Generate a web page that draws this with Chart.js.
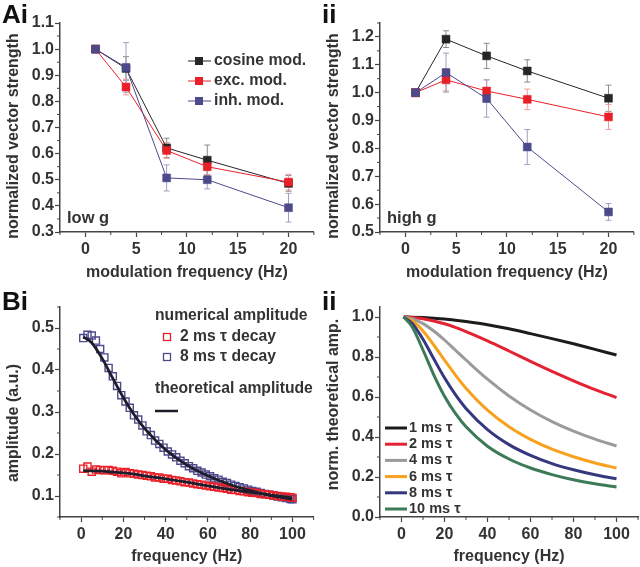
<!DOCTYPE html>
<html>
<head>
<meta charset="utf-8">
<script src="https://cdn.jsdelivr.net/npm/chart.js@4.4.1/dist/chart.umd.min.js"></script>
<style>
html, body { margin: 0; padding: 0; background: #fff; }
body { width: 640px; height: 567px; position: relative; overflow: hidden; font-family: "Liberation Sans", Arial, sans-serif; }
.panel { position: absolute; }
.tag { position: absolute; font-weight: bold; font-size: 26px; line-height: 1; color: #111; }
</style>
</head>
<body>
<div class="panel" style="left:0;top:0;width:320px;height:283px"><canvas id="lowG"></canvas></div>
<div class="panel" style="left:320px;top:0;width:320px;height:283px"><canvas id="highG"></canvas></div>
<div class="panel" style="left:0;top:283px;width:320px;height:284px"><canvas id="ampNum"></canvas></div>
<div class="panel" style="left:320px;top:283px;width:320px;height:284px"><canvas id="ampNorm"></canvas></div>
<div class="tag" style="left:2px;top:1px">Ai</div>
<div class="tag" style="left:322px;top:1px">ii</div>
<div class="tag" style="left:2px;top:288px">Bi</div>
<div class="tag" style="left:322px;top:288px">ii</div>
<script>
// ---- data ----
var modFreq = [1, 4, 8, 12, 20];
var modTicksX = [0, 5, 10, 15, 20];

// low g
var lowCos = [1.0, 0.926, 0.622, 0.575, 0.486];
var lowExc = [1.0, 0.855, 0.612, 0.550, 0.491];
var lowInh = [1.0, 0.930, 0.507, 0.500, 0.393];
var lowCosErr = [0, 0.045, 0.037, 0.058, 0.03];
var lowExcErr = [0, 0.03, 0.03, 0.03, 0.03];
var lowInhErr = [0, 0.095, 0.05, 0.035, 0.055];
var lowTicksY = [0.3, 0.4, 0.5, 0.6, 0.7, 0.8, 0.9, 1.0, 1.1];

// high g
var highCos = [1.0, 1.192, 1.132, 1.078, 0.980];
var highExc = [1.0, 1.046, 1.006, 0.976, 0.913];
var highInh = [1.0, 1.072, 0.979, 0.805, 0.572];
var highCosErr = [0, 0.03, 0.045, 0.04, 0.047];
var highExcErr = [0, 0.04, 0.04, 0.037, 0.045];
var highInhErr = [0, 0.07, 0.067, 0.063, 0.03];
var highTicksY = [0.5, 0.6, 0.7, 0.8, 0.9, 1.0, 1.1, 1.2];

// numerical amplitude (Bi)
var numFreq = [1, 3, 5, 7, 9, 11, 13, 15, 17, 19, 21, 23, 25, 27, 29, 31, 33, 35, 37, 39,
               41, 43, 45, 47, 49, 51, 53, 55, 57, 59, 61, 63, 65, 67, 69, 71, 73, 75, 77, 79,
               81, 83, 85, 87, 89, 91, 93, 95, 97, 99, 100];
var num2ms = [0.165, 0.170, 0.158, 0.163, 0.162, 0.161, 0.162, 0.160, 0.158, 0.154,
              0.157, 0.154, 0.153, 0.151, 0.150, 0.148, 0.147, 0.144, 0.144, 0.141,
              0.141, 0.138, 0.137, 0.135, 0.133, 0.132, 0.130, 0.128, 0.127, 0.125,
              0.123, 0.122, 0.120, 0.119, 0.117, 0.115, 0.114, 0.112, 0.111, 0.109,
              0.108, 0.107, 0.105, 0.104, 0.103, 0.101, 0.100, 0.099, 0.098, 0.097, 0.096];
var num8ms = [0.476, 0.484, 0.482, 0.470, 0.450, 0.430, 0.405, 0.385, 0.362, 0.340,
              0.325, 0.310, 0.292, 0.282, 0.268, 0.254, 0.245, 0.232, 0.224, 0.215,
              0.206, 0.199, 0.192, 0.184, 0.178, 0.171, 0.166, 0.160, 0.156, 0.151,
              0.147, 0.142, 0.139, 0.134, 0.131, 0.127, 0.124, 0.121, 0.118, 0.115,
              0.112, 0.110, 0.107, 0.105, 0.103, 0.101, 0.099, 0.097, 0.095, 0.093, 0.092];
var theoFreq = [1, 5, 10, 15, 20, 25, 30, 40, 50, 60, 70, 80, 90, 100];
var theo2ms = [0.160, 0.160, 0.159, 0.157, 0.155, 0.152, 0.148, 0.141, 0.133, 0.124, 0.116, 0.109, 0.102, 0.0955];
var theo8ms = [0.479, 0.465, 0.427, 0.380, 0.334, 0.294, 0.261, 0.210, 0.174, 0.148, 0.128, 0.113, 0.101, 0.092];
var ampTicksY = [0.1, 0.2, 0.3, 0.4, 0.5];
var freqTicksX = [0, 20, 40, 60, 80, 100];

// normalized theoretical amplitude (Bii)
var tauLabels = ['1 ms \u03c4', '2 ms \u03c4', '4 ms \u03c4', '6 ms \u03c4', '8 ms \u03c4', '10 ms \u03c4'];
var tau1 = [1.0, 0.999, 0.997, 0.994, 0.990, 0.984, 0.977, 0.961, 0.941, 0.917, 0.892, 0.866, 0.838, 0.810];
var tau2 = [1.0, 0.998, 0.991, 0.980, 0.966, 0.948, 0.927, 0.881, 0.830, 0.778, 0.728, 0.681, 0.637, 0.597];
var tau4 = [1.0, 0.991, 0.967, 0.930, 0.885, 0.835, 0.785, 0.689, 0.605, 0.535, 0.477, 0.429, 0.389, 0.355];
var tau6 = [1.0, 0.981, 0.930, 0.860, 0.784, 0.711, 0.644, 0.534, 0.451, 0.388, 0.339, 0.301, 0.270, 0.245];
var tau8 = [1.0, 0.968, 0.889, 0.791, 0.696, 0.613, 0.543, 0.437, 0.362, 0.308, 0.267, 0.236, 0.211, 0.191];
var tau10 = [1.0, 0.950, 0.835, 0.711, 0.604, 0.519, 0.451, 0.354, 0.290, 0.245, 0.212, 0.186, 0.166, 0.150];
var normTicksY = [0.0, 0.2, 0.4, 0.6, 0.8, 1.0];

// ---- look ----
var FONT = '"Liberation Sans", Arial, sans-serif';
var TXT = '#333';
var AX = '#444';
var cBlack = '#262626', cRed = '#ea2029', cInh = '#4c4a8a';

Chart.defaults.font.family = FONT;
Chart.defaults.animation = false;

function pts(xs, ys) {
    return xs.map(function (x, i) { return { x: x, y: ys[i] }; });
}

function axis(min, max, ticks, title, digits, isY, boxSize) {
    return {
        type: 'linear',
        min: min,
        max: max,
        afterBuildTicks: function (s) { s.ticks = ticks.map(function (v) { return { value: v }; }); },
        afterFit: function (s) { if (isY) { s.width = boxSize; } else { s.height = boxSize; } },
        grid: { drawOnChartArea: false, tickLength: 5, tickColor: AX, tickWidth: 1.2 },
        border: { color: AX, width: 1.5 },
        ticks: {
            color: TXT, autoSkip: false, maxRotation: 0,
            padding: isY ? 1 : 3,
            font: { size: 16, weight: 'bold' },
            callback: function (v) { return Number(v).toFixed(digits); }
        },
        title: {
            display: !isY, text: title, color: TXT,
            font: { size: 16, weight: 'bold' },
            padding: { top: 0, bottom: 1 }
        }
    };
}

//y title, placed by hand because it is not centred on the axis
function yTitle(text, cy) {
    return {
        id: 'yTitle',
        afterDraw: function (chart) {
            var ctx = chart.ctx;
            ctx.save();
            ctx.translate(13.5, cy);
            ctx.rotate(-Math.PI / 2);
            ctx.font = 'bold 16px ' + FONT;
            ctx.fillStyle = TXT;
            ctx.textAlign = 'center';
            ctx.textBaseline = 'middle';
            ctx.fillText(text, 0, 0);
            ctx.restore();
        }
    };
}

//minor ticks between labelled ones
var minorTicks = {
    id: 'minorTicks',
    afterDraw: function (chart) {
        var ctx = chart.ctx;
        ctx.save();
        ctx.strokeStyle = AX;
        ctx.lineWidth = 1;
        Object.keys(chart.scales).forEach(function (k) {
            var s = chart.scales[k];
            if (s.ticks.length < 2) return;
            var step = s.ticks[1].value - s.ticks[0].value;
            var v = s.ticks[0].value - step / 2;
            while (v >= s.min - 1e-9) v -= step;
            v += step;
            ctx.beginPath();
            for (; v <= s.max + 1e-9; v += step) {
                var p = s.getPixelForValue(v);
                if (s.isHorizontal()) {
                    ctx.moveTo(p, s.top); ctx.lineTo(p, s.top + 3);
                } else {
                    ctx.moveTo(s.right, p); ctx.lineTo(s.right - 3, p);
                }
            }
            ctx.stroke();
        });
        ctx.restore();
    }
};

//error bars drawn under the markers
var errorBars = {
    id: 'errorBars',
    beforeDatasetsDraw: function (chart) {
        var ctx = chart.ctx, xs = chart.scales.x, ys = chart.scales.y;
        chart.data.datasets.forEach(function (ds) {
            if (!ds.errors) return;
            ctx.save();
            ctx.strokeStyle = ds.errorColor;
            ctx.lineWidth = 1;
            ds.data.forEach(function (p, i) {
                var e = ds.errors[i];
                if (!e) return;
                var x = xs.getPixelForValue(p.x);
                var y1 = ys.getPixelForValue(p.y - e), y2 = ys.getPixelForValue(p.y + e);
                ctx.beginPath();
                ctx.moveTo(x, y1); ctx.lineTo(x, y2);
                ctx.moveTo(x - 3, y1); ctx.lineTo(x + 3, y1);
                ctx.moveTo(x - 3, y2); ctx.lineTo(x + 3, y2);
                ctx.stroke();
            });
            ctx.restore();
        });
    }
};

function cornerNote(text) {
    return {
        id: 'note',
        afterDraw: function (chart) {
            var ctx = chart.ctx, a = chart.chartArea;
            ctx.save();
            ctx.font = 'bold 16.5px ' + FONT;
            ctx.fillStyle = TXT;
            ctx.textBaseline = 'middle';
            ctx.fillText(text, a.left + 7, a.bottom - 14);
            ctx.restore();
        }
    };
}

function modSet(label, ys, errs, color, errColor, order) {
    return {
        label: label,
        data: pts(modFreq, ys),
        errors: errs,
        errorColor: errColor,
        borderColor: color,
        borderWidth: 1,
        backgroundColor: color,
        pointStyle: 'rect',
        pointRadius: 5.6,
        pointBorderWidth: 0.5,
        pointBorderColor: color,
        order: order
    };
}

function baseOptions(pad, xAxis, yAxis) {
    return {
        responsive: true,
        maintainAspectRatio: false,
        animation: false,
        layout: { padding: pad },
        plugins: { legend: { display: false }, tooltip: { enabled: false } },
        scales: { x: xAxis, y: yAxis }
    };
}

//Low g chart
var modLegend = {
    id: 'modLegend',
    afterDraw: function (chart) {
        var ctx = chart.ctx;
        var rows = [['cosine mod.', cBlack], ['exc. mod.', cRed], ['inh. mod.', cInh]];
        ctx.save();
        ctx.font = 'bold 15.8px ' + FONT;
        ctx.textBaseline = 'middle';
        rows.forEach(function (r, i) {
            var y = 61 + i * 20;
            ctx.strokeStyle = r[1]; ctx.lineWidth = 1;
            ctx.beginPath(); ctx.moveTo(188, y); ctx.lineTo(211, y); ctx.stroke();
            ctx.fillStyle = r[1];
            ctx.fillRect(195, y - 4, 8, 8);
            ctx.fillStyle = TXT;
            ctx.fillText(r[0], 214, y);
        });
        ctx.restore();
    }
};

new Chart(document.getElementById('lowG'), {
    type: 'line',
    data: {
        datasets: [
            modSet('cosine mod.', lowCos, lowCosErr, cBlack, '#8a8a8a', 3),
            modSet('exc. mod.', lowExc, lowExcErr, cRed, '#f19a9a', 2),
            modSet('inh. mod.', lowInh, lowInhErr, cInh, '#a09fbf', 1)
        ]
    },
    options: baseOptions({ top: 23, right: 4, left: 0, bottom: 0 },
        axis(-2.5, 22.5, modTicksX, 'modulation frequency (Hz)', 0, false, 51),
        axis(0.3, 1.1, lowTicksY, '', 1, true, 60)),
    plugins: [errorBars, minorTicks, modLegend, cornerNote('low g'), yTitle('normalized vector strength', 136)]
});

//High g chart
new Chart(document.getElementById('highG'), {
    type: 'line',
    data: {
        datasets: [
            modSet('cosine mod.', highCos, highCosErr, cBlack, '#8a8a8a', 3),
            modSet('exc. mod.', highExc, highExcErr, cRed, '#f19a9a', 2),
            modSet('inh. mod.', highInh, highInhErr, cInh, '#a09fbf', 1)
        ]
    },
    options: baseOptions({ top: 23, right: 4, left: 0, bottom: 0 },
        axis(-2.5, 22.5, modTicksX, 'modulation frequency (Hz)', 0, false, 51),
        axis(0.5, 1.25, highTicksY, '', 1, true, 60)),
    plugins: [errorBars, minorTicks, cornerNote('high g'), yTitle('normalized vector strength', 136)]
});

//Numerical vs theoretical amplitude
var ampLegend = {
    id: 'ampLegend',
    afterDraw: function (chart) {
        var ctx = chart.ctx;
        ctx.save();
        ctx.font = 'bold 15.7px ' + FONT;
        ctx.textBaseline = 'middle';
        ctx.fillStyle = TXT;
        ctx.fillText('numerical amplitude', 155, 33);
        ctx.fillText('2 ms \u03c4 decay', 180, 54);
        ctx.fillText('8 ms \u03c4 decay', 180, 74);
        ctx.fillText('theoretical amplitude', 155, 106);
        ctx.lineWidth = 1.3;
        ctx.strokeStyle = cRed; ctx.strokeRect(163.5, 50.5, 7, 7);
        ctx.strokeStyle = cInh; ctx.strokeRect(163.5, 70.5, 7, 7);
        ctx.strokeStyle = '#1d1d2b'; ctx.lineWidth = 2.5;
        ctx.beginPath(); ctx.moveTo(155, 128); ctx.lineTo(178, 128); ctx.stroke();
        ctx.restore();
    }
};

function numSet(ys, color) {
    return {
        data: pts(numFreq, ys),
        showLine: false,
        pointStyle: 'rect',
        pointRadius: 5,
        pointBorderWidth: 1.4,
        pointBorderColor: color,
        pointBackgroundColor: 'rgba(255,255,255,0)',
        order: 3
    };
}

function curveSet(xs, ys, color, width, order) {
    return {
        data: pts(xs, ys),
        borderColor: color,
        borderWidth: width,
        pointRadius: 0,
        cubicInterpolationMode: 'monotone',
        fill: false,
        order: order
    };
}

new Chart(document.getElementById('ampNum'), {
    type: 'line',
    data: {
        datasets: [
            numSet(num2ms, cRed),
            numSet(num8ms, cInh),
            curveSet(theoFreq, theo2ms, '#1d1d2b', 2.8, 1),
            curveSet(theoFreq, theo8ms, '#1d1d2b', 2.8, 1)
        ]
    },
    options: baseOptions({ top: 24, right: 4, left: 0, bottom: 0 },
        axis(-10, 110, freqTicksX, 'frequency (Hz)', 0, false, 50),
        axis(0.05, 0.55, ampTicksY, '', 1, true, 60)),
    plugins: [minorTicks, ampLegend, yTitle('amplitude (a.u.)', 140)]
});

//Normalized theoretical amplitude
var tauColors = ['#1c1c1c', '#e32232', '#9b9b9b', '#f7a11f', '#35377f', '#3d7a57'];
var tauSeries = [tau1, tau2, tau4, tau6, tau8, tau10];

var tauLegend = {
    id: 'tauLegend',
    afterDraw: function (chart) {
        var ctx = chart.ctx;
        ctx.save();
        ctx.font = 'bold 14.5px ' + FONT;
        ctx.textBaseline = 'middle';
        tauLabels.forEach(function (t, i) {
            var y = 145 + i * 16.2;
            ctx.strokeStyle = tauColors[i]; ctx.lineWidth = 3;
            ctx.beginPath(); ctx.moveTo(65, y); ctx.lineTo(87, y); ctx.stroke();
            ctx.fillStyle = TXT;
            ctx.fillText(t, 89, y);
        });
        ctx.restore();
    }
};

new Chart(document.getElementById('ampNorm'), {
    type: 'line',
    data: {
        datasets: tauSeries.map(function (s, i) {
            return curveSet(theoFreq, s, tauColors[i], 3, 6 - i);
        })
    },
    options: baseOptions({ top: 24, right: 2, left: 0, bottom: 0 },
        axis(-10, 110, freqTicksX, 'frequency (Hz)', 0, false, 50),
        axis(0, 1.05, normTicksY, '', 1, true, 60)),
    plugins: [minorTicks, tauLegend, yTitle('norm. theoretical amp.', 121.5)]
});
</script>
</body>
</html>
